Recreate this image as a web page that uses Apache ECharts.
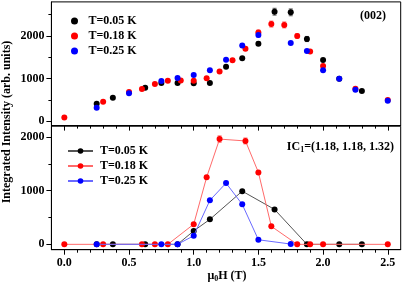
<!DOCTYPE html>
<html><head><meta charset="utf-8">
<script src="https://cdn.jsdelivr.net/npm/echarts@6/dist/echarts.min.js"></script>
<style>html,body{margin:0;padding:0;background:#fff}#c{width:402px;height:286px}</style>
</head><body><div id="c"></div>
<script>
// ---- Data (top panel: (002)) ----
const topBlackX = [0.25, 0.375, 0.625, 0.75, 0.875, 1.0, 1.125, 1.25, 1.375, 1.5, 1.625, 1.75, 1.875, 2.0, 2.125, 2.3];
const topBlackY = [410, 550, 790, 900, 900, 895, 900, 1280, 1480, 1820, 2570, 2555, 1930, 1440, 1000, 710];
const topBlackErr = [0, 0, 0, 0, 0, 0, 0, 0, 0, 40, 80, 80, 60, 0, 0, 0];
const topRedX = [0, 0.3, 0.5, 0.6, 0.7, 0.8, 0.9, 1.0, 1.1, 1.2, 1.3, 1.4, 1.5, 1.6, 1.7, 1.8, 1.9, 2.0, 2.25, 2.5];
const topRedY = [90, 460, 690, 760, 875, 950, 960, 950, 1010, 1170, 1430, 1700, 2080, 2280, 2260, 2000, 1640, 1300, 765, 500];
const topRedErr = [0, 0, 0, 0, 0, 0, 0, 0, 0, 0, 0, 40, 60, 70, 70, 50, 0, 0, 0, 0];
const topBlueX = [0.25, 0.5, 0.75, 0.875, 1.0, 1.125, 1.25, 1.375, 1.5, 1.75, 1.875, 2.0, 2.125, 2.25, 2.5];
const topBlueY = [320, 660, 945, 1015, 1085, 1200, 1445, 1775, 2025, 1835, 1650, 1195, 1000, 740, 485];
const topBlueErr = [0, 0, 0, 0, 0, 0, 0, 40, 50, 0, 0, 0, 0, 0, 0];
// ---- Data (bottom panel: IC1) ----
const botBlackX = [0.25, 0.375, 0.625, 0.875, 1.0, 1.125, 1.375, 1.625, 1.875, 2.125, 2.3];
const botBlackY = [0, 0, 0, 0, 250, 465, 990, 650, 0, 0, 0];
const botRedX = [0, 0.3, 0.6, 0.7, 0.8, 1.0, 1.1, 1.2, 1.4, 1.5, 1.6, 1.8, 1.9, 2.0, 2.5];
const botRedY = [0, 0, 0, 0, 0, 375, 1250, 1960, 1925, 1340, 335, 0, 0, 0, 0];
const botRedErr = [0, 0, 0, 0, 0, 0, 0, 60, 55, 0, 0, 0, 0, 0, 0];
const botBlueX = [0.25, 0.75, 0.875, 1.0, 1.125, 1.25, 1.375, 1.5, 1.75];
const botBlueY = [0, 0, 0, 160, 820, 1140, 745, 85, 5];
// ---- Labels / ticks ----
const seriesNames = ['T=0.05 K', 'T=0.18 K', 'T=0.25 K'];
const xMajorTicks = [0, 0.5, 1.0, 1.5, 2.0, 2.5];
const xMinorTicks = [0.1, 0.2, 0.3, 0.4, 0.6, 0.7, 0.8, 0.9, 1.1, 1.2, 1.3, 1.4, 1.6, 1.7, 1.8, 1.9, 2.1, 2.2, 2.3, 2.4];
const yTopMajorTicks = [0, 1000, 2000];
const yTopMinorTicks = [500, 1500, 2500];
const yBotMajorTicks = [0, 1000, 2000];
const yBotMinorTicks = [500, 1500];
const yLabel = 'Integrated Intensity (arb. units)';
const topTag = '(002)';

const FONT = '"Liberation Serif", "Times New Roman", serif';
const colors = ['#000000', '#ff0000', '#0000ff'];
const lineColors = ['#555555', '#ff6a6a', '#6a6aff'];

const zip = (xs, ys) => xs.map((x, i) => [x, ys[i]]);
const zipErr = (xs, ys, es) => xs.map((x, i) => [x, ys[i], es[i]]).filter(d => d[2] > 0);

function errRender(color) {
  return function (params, api) {
    const x = api.value(0), y = api.value(1), e = api.value(2);
    const p1 = api.coord([x, y - e]), p2 = api.coord([x, y + e]);
    const w = 2;
    const st = { stroke: color, lineWidth: 1 };
    return { type: 'group', children: [
      { type: 'line', shape: { x1: p1[0], y1: p1[1], x2: p2[0], y2: p2[1] }, style: st },
      { type: 'line', shape: { x1: p1[0] - w, y1: p1[1], x2: p1[0] + w, y2: p1[1] }, style: st },
      { type: 'line', shape: { x1: p2[0] - w, y1: p2[1], x2: p2[0] + w, y2: p2[1] }, style: st }
    ]};
  };
}

const labelStyle = { fontFamily: FONT, fontWeight: 'bold', fontSize: 12, color: '#000' };

function xAxes(grid, showLabels) {
  return [
    { type: 'value', gridIndex: grid, min: -0.1, max: 2.6, position: 'bottom',
      axisLine: { show: true, onZero: false, lineStyle: { color: '#000', width: 1 } },
      axisTick: { show: true, inside: false, length: 5, customValues: xMajorTicks, lineStyle: { color: '#000' } },
      axisLabel: { show: showLabels, customValues: xMajorTicks, margin: 7, formatter: v => v.toFixed(1), ...labelStyle },
      splitLine: { show: false } },
    { type: 'value', gridIndex: grid, min: -0.1, max: 2.6, position: 'bottom',
      axisLine: { show: false, onZero: false },
      axisTick: { show: true, inside: false, length: 3, customValues: xMinorTicks, lineStyle: { color: '#000' } },
      axisLabel: { show: false }, splitLine: { show: false } }
  ];
}
function yAxes(grid, min, max, major, minor) {
  return [
    { type: 'value', gridIndex: grid, min: min, max: max, position: 'left',
      axisLine: { show: true, onZero: false, lineStyle: { color: '#000', width: 1 } },
      axisTick: { show: true, inside: false, length: 5, customValues: major, lineStyle: { color: '#000' } },
      axisLabel: { show: true, customValues: major, margin: 7, formatter: v => String(v), ...labelStyle },
      splitLine: { show: false } },
    { type: 'value', gridIndex: grid, min: min, max: max, position: 'left',
      axisLine: { show: false, onZero: false },
      axisTick: { show: true, inside: false, length: 3, customValues: minor, lineStyle: { color: '#000' } },
      axisLabel: { show: false }, splitLine: { show: false } }
  ];
}

const topX = [topBlackX, topRedX, topBlueX], topY = [topBlackY, topRedY, topBlueY], topE = [topBlackErr, topRedErr, topBlueErr];
const botX = [botBlackX, botRedX, botBlueX], botY = [botBlackY, botRedY, botBlueY];

const series = [];
for (let i = 0; i < 3; i++) {
  series.push({ type: 'custom', xAxisIndex: 0, yAxisIndex: 0, renderItem: errRender(lineColors[i]),
    data: zipErr(topX[i], topY[i], topE[i]), silent: true, z: 1 });
}
for (let i = 0; i < 3; i++) {
  series.push({ name: seriesNames[i], type: 'scatter', xAxisIndex: 0, yAxisIndex: 0,
    symbol: 'circle', symbolSize: 6, itemStyle: { color: colors[i], opacity: 1 },
    data: zip(topX[i], topY[i]), z: 3 + i });
}
series.push({ type: 'custom', xAxisIndex: 2, yAxisIndex: 2, renderItem: errRender(lineColors[1]),
  data: zipErr(botRedX, botRedY, botRedErr), silent: true, z: 1 });
for (let i = 0; i < 3; i++) {
  series.push({ name: seriesNames[i] + ' ', type: 'line', xAxisIndex: 2, yAxisIndex: 2,
    symbol: 'circle', symbolSize: 6, showSymbol: true,
    lineStyle: { color: lineColors[i], width: 1 },
    itemStyle: { color: colors[i] },
    data: zip(botX[i], botY[i]), z: 3 + i, animation: false });
}

const legendText = { fontFamily: FONT, fontWeight: 'bold', fontSize: 12, color: '#000', lineHeight: 14, padding: [0, 0, 0, 2] };

const option = {
  animation: false,
  backgroundColor: '#fff',
  grid: [
    { left: 51.4, width: 349.3, top: 1.9, height: 123.7, show: true, borderColor: '#000', borderWidth: 1, backgroundColor: 'transparent', containLabel: false },
    { left: 51.4, width: 349.3, top: 126.2, height: 123.5, show: true, borderColor: '#000', borderWidth: 1, backgroundColor: 'transparent', containLabel: false }
  ],
  xAxis: [...xAxes(0, false), ...xAxes(1, true)],
  yAxis: [...yAxes(0, -100, 2800, yTopMajorTicks, yTopMinorTicks), ...yAxes(1, -100, 2200, yBotMajorTicks, yBotMinorTicks)],
  legend: [
    { data: seriesNames.map(n => ({ name: n, icon: 'circle' })), orient: 'vertical', left: 66, top: 9,
      itemWidth: 14, itemHeight: 7, itemGap: 1, textStyle: legendText, selectedMode: false },
    { data: seriesNames.map(n => n + ' '), orient: 'vertical', left: 62, top: 139,
      itemWidth: 25, itemHeight: 7, itemGap: 1, textStyle: legendText, selectedMode: false }
  ],
  graphic: [
    { type: 'text', x: 7, y: 122, rotation: Math.PI / 2, silent: true,
      style: { text: yLabel, fontFamily: FONT, fontWeight: 'bold', fontSize: 12, fill: '#000', align: 'center', verticalAlign: 'middle' } },
    { type: 'text', x: 227, y: 276, silent: true,
      style: { text: '{a|μ}{s|0}{a|H (T)}', align: 'center', verticalAlign: 'middle',
        rich: { a: { fontFamily: FONT, fontWeight: 'bold', fontSize: 12, fill: '#000' },
                s: { fontFamily: FONT, fontWeight: 'bold', fontSize: 8, fill: '#000', padding: [6, 0, 0, 0] } } } },
    { type: 'text', x: 386, y: 16, silent: true,
      style: { text: topTag, fontFamily: FONT, fontWeight: 'bold', fontSize: 12, fill: '#000', align: 'right', verticalAlign: 'middle' } },
    { type: 'text', x: 394, y: 147, silent: true,
      style: { text: '{a|IC}{s|1}{a|=(1.18, 1.18, 1.32)}', align: 'right', verticalAlign: 'middle',
        rich: { a: { fontFamily: FONT, fontWeight: 'bold', fontSize: 12, fill: '#000' },
                s: { fontFamily: FONT, fontWeight: 'bold', fontSize: 8, fill: '#000', padding: [6, 0, 0, 0] } } } }
  ],
  series: series
};

const chart = echarts.init(document.getElementById('c'), null, { renderer: 'canvas' });
chart.setOption(option);
</script>
</body></html>
